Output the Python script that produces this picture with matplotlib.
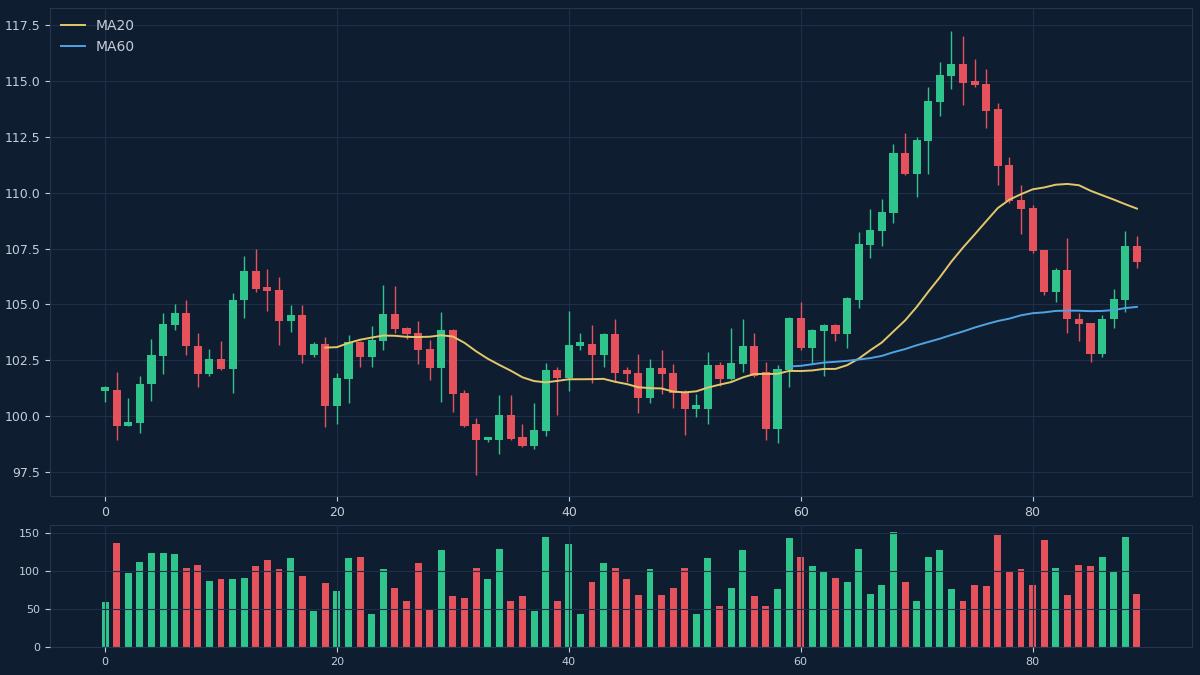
import numpy as np
import pandas as pd
import matplotlib
matplotlib.use('Agg')
import matplotlib.pyplot as plt

# OHLC values, one per day (0..89)
opens = [101.12, 101.16, 99.57, 99.69, 101.43, 102.68, 104.09, 104.61, 103.16, 101.88,
         102.55, 102.10, 105.19, 106.49, 105.77, 105.64, 104.25, 104.52, 102.73, 103.21,
         100.46, 101.67, 103.31, 102.64, 103.37, 104.56, 103.95, 103.71, 103.00, 102.15,
         103.85, 101.03, 99.64, 98.93, 98.93, 100.06, 99.07, 98.66, 99.33, 102.06,
         101.73, 103.13, 103.22, 102.72, 103.68, 102.06, 101.92, 100.82, 102.15, 101.92,
         101.07, 100.31, 100.31, 102.30, 101.66, 102.33, 103.13, 101.96, 99.42, 102.06,
         104.40, 103.04, 103.80, 104.10, 103.66, 105.19, 107.65, 108.29, 109.10, 111.78,
         110.83, 112.32, 114.06, 115.23, 115.74, 115.00, 114.85, 113.72, 111.23, 109.66,
         109.32, 107.43, 105.56, 106.53, 104.34, 104.17, 102.76, 104.33, 105.22, 107.61]
highs = [101.35, 101.96, 100.80, 101.79, 103.44, 104.61, 105.01, 105.22, 103.71, 103.00,
         103.36, 105.53, 107.16, 107.50, 106.58, 106.22, 104.97, 104.97, 103.31, 103.55,
         101.91, 103.61, 103.35, 104.03, 105.86, 105.82, 103.97, 104.25, 103.40, 104.65,
         103.88, 101.16, 99.90, 99.08, 100.94, 100.94, 99.67, 100.61, 102.40, 102.18,
         104.70, 103.73, 104.07, 103.73, 104.33, 102.20, 102.80, 102.54, 102.95, 102.33,
         101.16, 101.01, 102.89, 102.43, 103.95, 104.34, 103.70, 102.43, 102.27, 104.44,
         105.11, 103.92, 104.12, 104.12, 105.34, 108.22, 109.25, 109.71, 112.17, 112.65,
         112.50, 114.71, 115.85, 117.23, 117.00, 115.97, 115.53, 113.99, 111.60, 110.34,
         109.44, 107.45, 106.61, 107.95, 104.60, 104.19, 104.52, 105.67, 108.29, 108.05]
lows = [100.65, 98.93, 99.55, 99.25, 100.68, 101.88, 103.85, 102.73, 101.31, 101.82,
        102.06, 101.04, 104.40, 105.56, 104.71, 103.19, 103.77, 102.40, 102.65, 99.52,
        99.63, 100.57, 102.20, 102.21, 102.95, 103.74, 103.47, 102.33, 101.61, 100.64,
        100.19, 99.52, 97.37, 98.84, 98.33, 98.93, 98.63, 98.55, 99.12, 100.04,
        101.13, 102.95, 101.49, 102.20, 101.58, 101.55, 100.15, 100.57, 101.01, 100.37,
        99.15, 99.97, 99.67, 101.34, 101.64, 101.98, 101.76, 98.93, 98.81, 101.31,
        102.95, 102.36, 101.79, 103.37, 103.06, 104.85, 107.06, 107.62, 108.62, 110.78,
        109.79, 110.83, 113.44, 114.63, 113.91, 114.73, 112.87, 110.34, 109.52, 108.17,
        107.28, 105.41, 105.11, 103.73, 103.37, 102.43, 102.63, 103.95, 104.67, 106.64]
closes = [101.30, 99.57, 99.73, 101.46, 102.73, 104.12, 104.61, 103.13, 101.88, 102.55,
          102.10, 105.22, 106.49, 105.68, 105.61, 104.25, 104.52, 102.73, 103.21, 100.46,
          101.70, 103.31, 102.64, 103.41, 104.56, 103.89, 103.67, 102.95, 102.15, 103.85,
          100.98, 99.58, 98.93, 99.06, 100.06, 99.00, 98.66, 99.37, 102.06, 101.73,
          103.18, 103.32, 102.72, 103.68, 101.92, 101.88, 100.81, 102.15, 101.88, 101.04,
          100.31, 100.49, 102.30, 101.66, 102.36, 103.13, 101.79, 99.42, 102.10, 104.40,
          103.03, 103.86, 104.10, 103.66, 105.27, 107.70, 108.32, 109.14, 111.78, 110.83,
          112.35, 114.11, 115.26, 115.74, 114.91, 114.81, 113.66, 111.19, 109.62, 109.26,
          107.38, 105.56, 106.56, 104.33, 104.12, 102.76, 104.34, 105.23, 107.61, 106.90]
volumes = [59, 137, 98, 112, 124, 124, 123, 104, 108, 87,
           89, 89, 91, 107, 115, 102, 117, 93, 48, 84,
           74, 117, 119, 44, 103, 77, 60, 110, 49, 127,
           67, 64, 104, 90, 129, 61, 67, 48, 145, 60,
           136, 43, 85, 111, 104, 89, 68, 103, 68, 77,
           104, 44, 117, 54, 78, 128, 67, 54, 76, 144,
           119, 106, 100, 91, 85, 129, 70, 82, 151, 86,
           60, 119, 127, 76, 61, 81, 80, 147, 99, 102,
           81, 141, 104, 68, 108, 106, 119, 100, 145, 70]

BG = '#0f1d31'
UP = '#2ec48c'
DOWN = '#e5525c'
GRID = '#1e2f47'
SPINE = '#24364f'
TXT = '#c5cdd9'

df = pd.DataFrame({'open': opens, 'high': highs, 'low': lows,
                   'close': closes, 'volume': volumes})
df['ma20'] = df['close'].rolling(20).mean()
df['ma60'] = df['close'].rolling(60).mean()
x = np.arange(len(df))
up = df['close'] >= df['open']
colors = np.where(up, UP, DOWN)

fig = plt.figure(figsize=(12, 6.75), dpi=100, facecolor=BG)
ax = fig.add_axes([50 / 1200, 179 / 675, 1142 / 1200, 488 / 675])
axv = fig.add_axes([50 / 1200, 28 / 675, 1142 / 1200, 122 / 675], sharex=ax)

for a in (ax, axv):
    a.set_facecolor(BG)
    for s in a.spines.values():
        s.set_color(SPINE)
    a.grid(True, color=GRID, linewidth=0.8)
    a.tick_params(colors=TXT, labelcolor=TXT)

# wicks and bodies
ax.vlines(x, df['low'], df['high'], colors=colors, linewidth=1, zorder=2)
body_bottom = np.minimum(df['open'], df['close'])
body_height = np.abs(df['close'] - df['open'])
ax.bar(x, body_height, bottom=body_bottom, width=0.7, color=colors, zorder=3)

ax.plot(x, df['ma20'], color='#e3c76b', linewidth=1.4, label='MA20', zorder=4)
ax.plot(x, df['ma60'], color='#4fa3e3', linewidth=1.4, label='MA60', zorder=4)

leg = ax.legend(loc='upper left', frameon=False, fontsize=10,
                handlelength=1.7, borderaxespad=0.4)
for t in leg.get_texts():
    t.set_color(TXT)

ax.set_yticks([97.5, 100.0, 102.5, 105.0, 107.5, 110.0, 112.5, 115.0, 117.5])
ax.tick_params(labelsize=9)
ax.set_xlim(-4.75, 93.75)
ax.set_ylim(96.43, 118.26)

axv.bar(x, df['volume'], width=0.6, color=colors, zorder=1)
axv.set_axisbelow(False)
axv.set_ylim(0, 160.5)
axv.set_yticks([0, 50, 100, 150])
axv.tick_params(labelsize=8)
axv.set_xticks([0, 20, 40, 60, 80])
ax.xaxis.set_tick_params(labelbottom=True)

fig.savefig('out.png', dpi=100, facecolor=BG)
